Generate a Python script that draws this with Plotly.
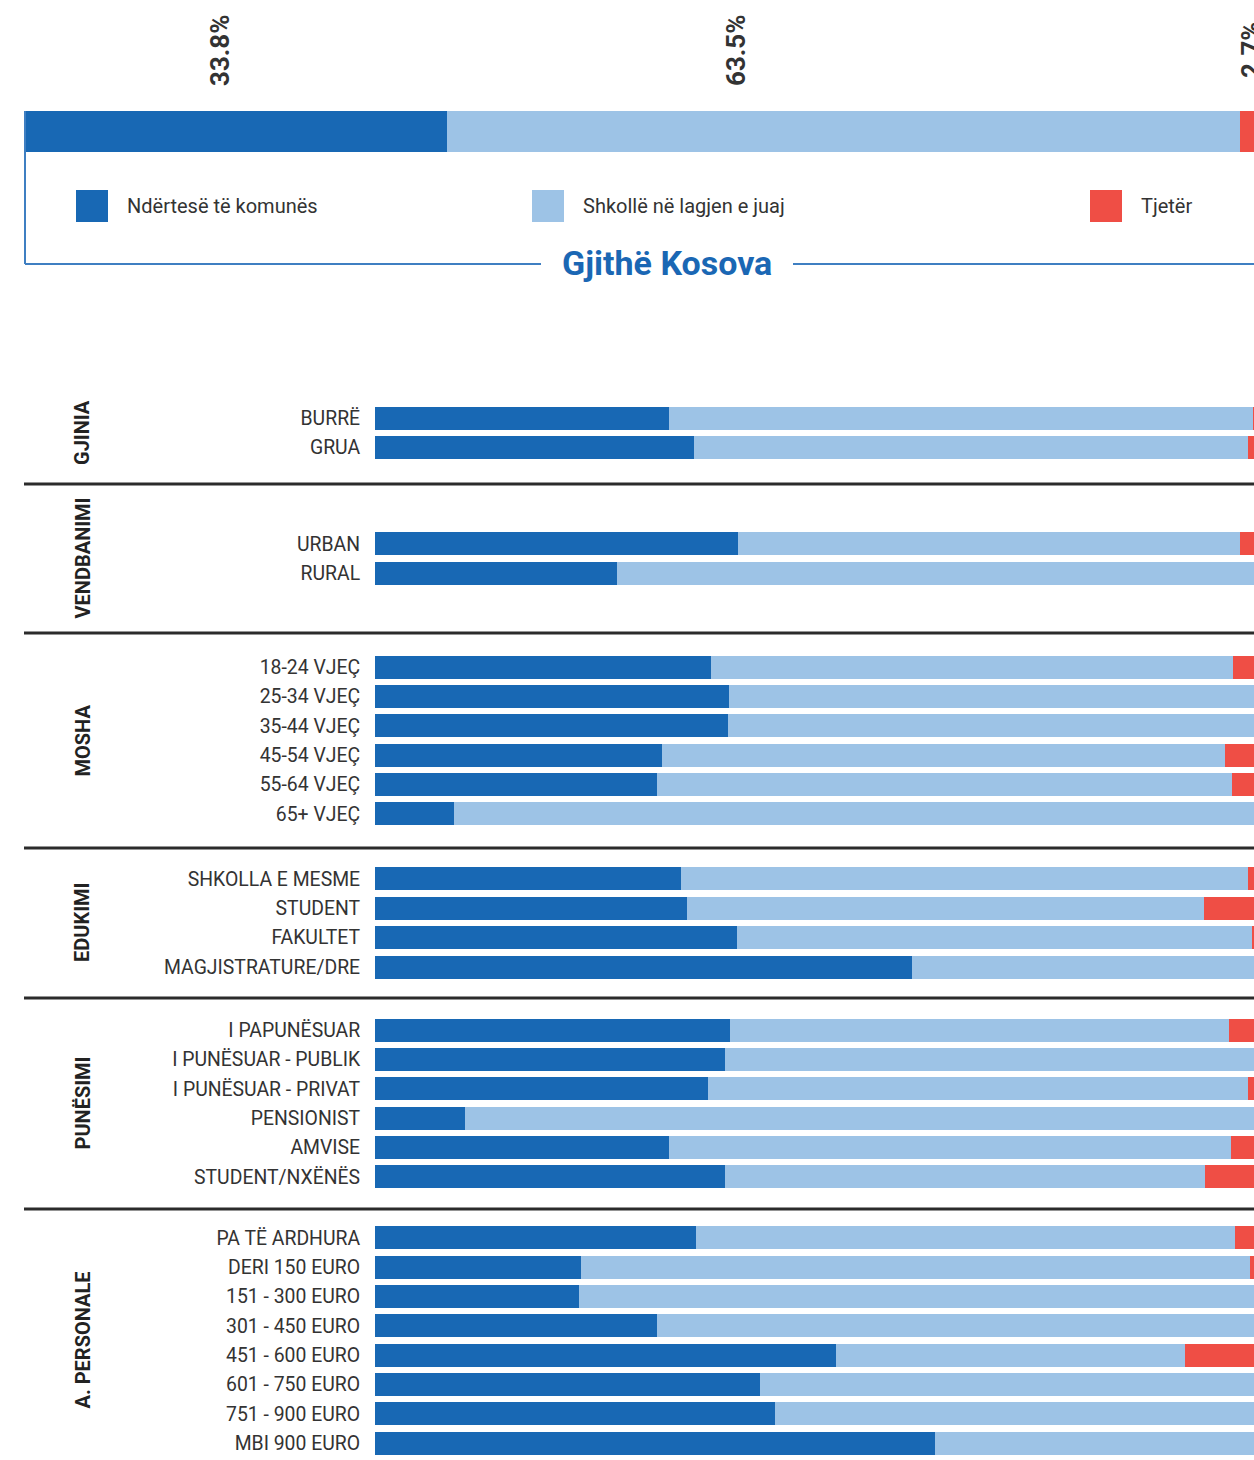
import plotly.graph_objects as go

W, H = 1254, 1460

# ---------------- data ----------------
series_names = ["Ndërtesë të komunës", "Shkollë në lagjen e juaj", "Tjetër"]
overall_title = "Gjithë Kosova"
overall_values = [33.8, 63.5, 2.7]

group_names = ["GJINIA", "VENDBANIMI", "MOSHA", "EDUKIMI", "PUNËSIMI", "A. PERSONALE"]
group_counts = [2, 2, 6, 4, 6, 8]

categories = [
    "BURRË", "GRUA",
    "URBAN", "RURAL",
    "18-24 VJEÇ", "25-34 VJEÇ", "35-44 VJEÇ", "45-54 VJEÇ", "55-64 VJEÇ", "65+ VJEÇ",
    "SHKOLLA E MESME", "STUDENT", "FAKULTET", "MAGJISTRATURE/DRE",
    "I PAPUNËSUAR", "I PUNËSUAR - PUBLIK", "I PUNËSUAR - PRIVAT", "PENSIONIST", "AMVISE", "STUDENT/NXËNËS",
    "PA TË ARDHURA", "DERI 150 EURO", "151 - 300 EURO", "301 - 450 EURO", "451 - 600 EURO",
    "601 - 750 EURO", "751 - 900 EURO", "MBI 900 EURO",
]
val_komuna = [
    32.7, 35.5,
    40.4, 26.9,
    37.4, 39.4, 39.3, 31.9, 31.4, 8.8,
    34.0, 34.7, 40.3, 59.7,
    39.5, 38.9, 37.0, 10.0, 32.7, 38.9,
    35.7, 22.9, 22.7, 31.4, 51.3, 42.8, 44.5, 62.3,
]
val_lagje = [
    65.0, 61.6,
    55.8, 71.6,
    58.0, 59.6, 59.7, 62.7, 63.9, 90.2,
    63.1, 57.5, 57.3, 40.3,
    55.5, 60.1, 60.1, 90.0, 62.5, 53.4,
    60.0, 74.4, 76.3, 67.6, 38.8, 57.2, 55.5, 37.7,
]
val_tjeter = [
    2.3, 2.9,
    3.8, 1.5,
    4.6, 1.0, 1.0, 5.4, 4.7, 1.0,
    2.9, 7.8, 2.4, 0.0,
    5.0, 1.0, 2.9, 0.0, 4.8, 7.7,
    4.3, 2.7, 1.0, 1.0, 9.9, 0.0, 0.0, 0.0,
]

# ---------------- styles / layout constants ----------------
colors = ["#1868B4", "#9DC3E6", "#EF4E45"]
TXT = "#333333"
FONT = "Roboto"

top_px = 382            # top of the grouped chart
section_px = [102, 149, 215, 150, 211, 263]
row_px = 29.35
bar_px = 23
bars_left_px = 375
bars_full_px = 899      # pixel length of 100 %
top_left_px = 25
top_full_px = 1249
top_bar_px = (111, 152)


def px(x):
    return x / W


def py(y):
    return 1 - y / H


# row positions (page px) computed from section sizes
ypos, group_centers, boundaries = [], [], []
start = top_px
for h, n in zip(section_px, group_counts):
    first = start + (h - (n - 1) * row_px) / 2
    for i in range(n):
        ypos.append(first + i * row_px)
    group_centers.append(start + h / 2)
    start += h
    boundaries.append(start)
boundaries = boundaries[:-1]

fig = go.Figure()

# grouped bars
for name, vals, col in zip(series_names, [val_komuna, val_lagje, val_tjeter], colors):
    fig.add_trace(go.Bar(
        x=vals, y=ypos, orientation="h", name=name,
        marker=dict(color=col, line=dict(width=0)),
        width=bar_px, showlegend=False, xaxis="x", yaxis="y",
    ))

# overall bar
for name, v, col in zip(series_names, overall_values, colors):
    fig.add_trace(go.Bar(
        x=[v], y=[0], orientation="h", name=name,
        marker=dict(color=col, line=dict(width=0)),
        width=1, showlegend=False, xaxis="x2", yaxis="y2",
    ))

annotations = []
shapes = []

fig.update_layout(
    xaxis=dict(domain=[px(bars_left_px), 1],
               range=[0, 100 * (W - bars_left_px) / bars_full_px],
               visible=False, fixedrange=True),
    yaxis=dict(domain=[0, py(top_px)], range=[H, top_px],
               tickvals=ypos, ticktext=categories,
               tickfont=dict(family=FONT, size=19.4, color=TXT),
               ticks="outside", ticklen=10, tickcolor="rgba(0,0,0,0)",
               showgrid=False, zeroline=False, showline=False),
    xaxis2=dict(domain=[px(top_left_px), 1],
                range=[0, 100 * (W - top_left_px) / top_full_px],
                visible=False, anchor="y2"),
    yaxis2=dict(domain=[py(top_bar_px[1]), py(top_bar_px[0])], range=[-0.5, 0.5],
                visible=False, anchor="x2"),
)

# group labels
for g, c in zip(group_names, group_centers):
    annotations.append(dict(
        x=px(82), xref="paper", y=c, yref="y", text="<b>%s</b>" % g,
        textangle=-90, showarrow=False, xanchor="center", yanchor="middle",
        font=dict(family=FONT, size=20, color="#222222"),
    ))

# separators
for b in boundaries:
    shapes.append(dict(type="line", xref="paper", yref="y", x0=px(24), x1=1,
                       y0=b, y1=b, line=dict(color="#2B2B2B", width=3)))

# percentage labels above the overall bar (the last one is cut by the edge, as in the original)
pct_label_px = [220, 736, 1251]
for v, xp in zip(overall_values, pct_label_px):
    annotations.append(dict(
        x=px(xp), xref="paper", y=py(50), yref="paper", text="<b>%.1f%%</b>" % v,
        textangle=-90, showarrow=False, xanchor="center", yanchor="middle",
        font=dict(family=FONT, size=26, color=TXT),
    ))

# manual legend
legend_px = [76, 532, 1090]
for name, col, lx in zip(series_names, colors, legend_px):
    shapes.append(dict(type="rect", xref="paper", yref="paper",
                       x0=px(lx), x1=px(lx + 32), y0=py(222), y1=py(190),
                       fillcolor=col, line=dict(width=0)))
    annotations.append(dict(
        x=px(lx + 49), xref="paper", y=py(206), yref="paper", text=name,
        showarrow=False, xanchor="left", yanchor="middle",
        font=dict(family=FONT, size=20, color=TXT),
    ))

# frame around overall block
frame_col = "#3F7FC2"
shapes.append(dict(type="line", xref="paper", yref="paper", x0=px(25), x1=px(25),
                   y0=py(111), y1=py(264), line=dict(color=frame_col, width=2)))
shapes.append(dict(type="line", xref="paper", yref="paper", x0=px(25), x1=px(541),
                   y0=py(264), y1=py(264), line=dict(color=frame_col, width=2)))
shapes.append(dict(type="line", xref="paper", yref="paper", x0=px(793), x1=1,
                   y0=py(264), y1=py(264), line=dict(color=frame_col, width=2)))
annotations.append(dict(
    x=px(667), xref="paper", y=py(263), yref="paper", text="<b>%s</b>" % overall_title,
    showarrow=False, xanchor="center", yanchor="middle",
    font=dict(family=FONT, size=34, color="#1A67B4"),
))

fig.update_layout(
    width=W, height=H,
    margin=dict(l=0, r=0, t=0, b=0, pad=0),
    paper_bgcolor="white", plot_bgcolor="white",
    barmode="stack", bargap=0,
    annotations=annotations, shapes=shapes,
    showlegend=False,
)

fig.write_html("out.html", config={"displayModeBar": False},
               post_script="document.body.style.margin='0';document.body.style.overflow='hidden';")
